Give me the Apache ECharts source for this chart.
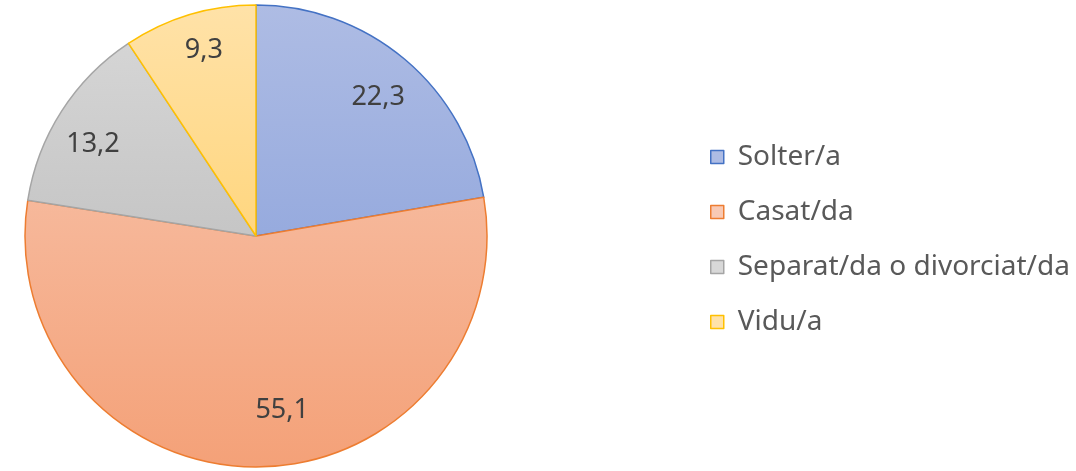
<!DOCTYPE html>
<html>
<head>
<meta charset="utf-8">
<script src="https://cdn.jsdelivr.net/npm/echarts@6/dist/echarts.min.js"></script>
<style>
  html, body { margin: 0; padding: 0; background: #fff; }
  #chart { width: 1076px; height: 471px; }
</style>
</head>
<body>
<div id="chart"></div>
<script>
const categories = ['Solter/a', 'Casat/da', 'Separat/da o divorciat/da', 'Vidu/a']
const values = [22.3, 55.1, 13.2, 9.3]
// [top, bottom, border]
const palette = [
  ['#aebce4', '#7f99d8', '#4472c4'],
  ['#f8c9b4', '#f4a178', '#ed7d31'],
  ['#d8d8d8', '#b3b3b3', '#a5a5a5'],
  ['#ffe2a8', '#ffca55', '#ffc000']
]
// small nudges so labels sit where Excel put them
const labelNudge = [[1, 5], [25, -13], [-5, 10], [2, -6]]

const cx = 256, cy = 236, r = 231
const font = '"Noto Sans", sans-serif'

const chart = echarts.init(document.getElementById('chart'))

const grad = (c) => new echarts.graphic.LinearGradient(0, cy - r, 0, cy + r, [
  { offset: 0, color: c[0] },
  { offset: 1, color: c[1] }
], true)

const pieData = categories.map((name, i) => ({
  name: name,
  value: values[i],
  itemStyle: { color: grad(palette[i]), borderColor: palette[i][2], borderWidth: 1.5 }
}))

const labelData = categories.map((name, i) => ({
  name: name,
  value: values[i],
  label: { offset: labelNudge[i] }
}))

chart.setOption({
  animation: false,
  legend: {
    orient: 'vertical',
    left: 705,
    top: 137,
    itemWidth: 13,
    itemHeight: 13,
    itemGap: 25,
    icon: 'rect',
    textStyle: { fontFamily: font, fontSize: 28, lineHeight: 30, color: '#595959', padding: [0, 0, 0, 9] },
    data: categories.map((name, i) => ({
      name: name,
      itemStyle: { color: palette[i][0], borderColor: palette[i][2], borderWidth: 1.5 }
    }))
  },
  series: [
    {
      type: 'pie',
      center: [cx, cy],
      radius: [0, r],
      startAngle: 90,
      clockwise: true,
      label: { show: false },
      labelLine: { show: false },
      emphasis: { disabled: true },
      data: pieData
    },
    {
      // transparent ring only used to put labels at ~0.8 of the radius
      type: 'pie',
      center: [cx, cy],
      radius: [r * 0.6, r],
      startAngle: 90,
      clockwise: true,
      silent: true,
      legendHoverLink: false,
      itemStyle: { color: 'rgba(0,0,0,0)', borderWidth: 0 },
      label: {
        show: true,
        position: 'inside',
        fontFamily: font,
        fontSize: 27,
        color: '#404040',
        formatter: (p) => String(p.value).replace('.', ',')
      },
      labelLine: { show: false },
      emphasis: { disabled: true },
      data: labelData
    }
  ]
})
</script>
</body>
</html>
